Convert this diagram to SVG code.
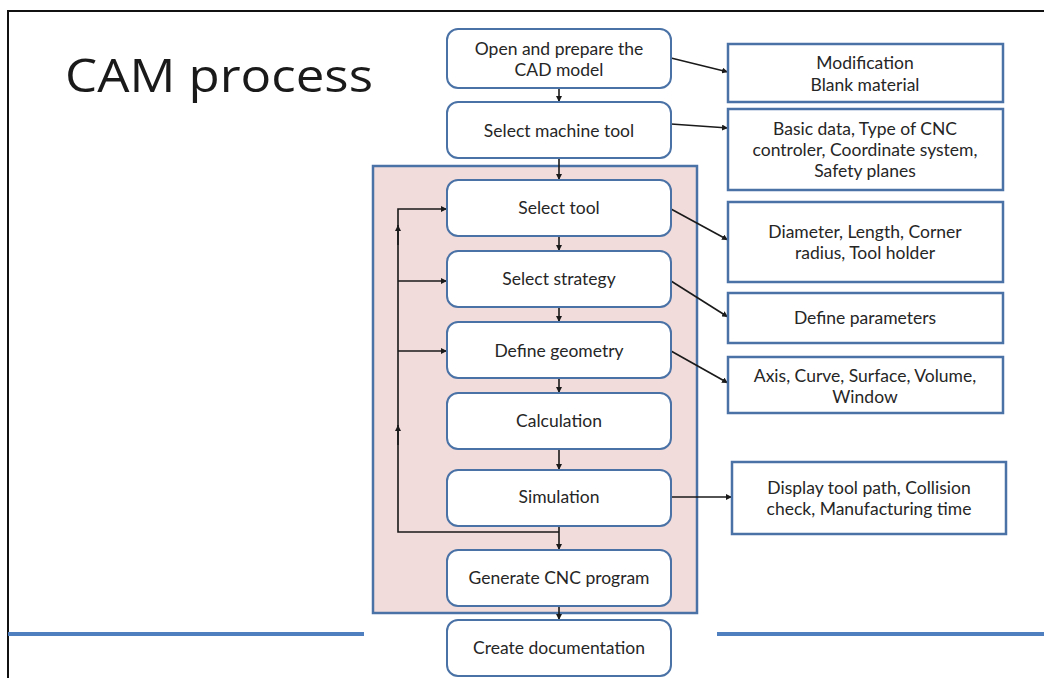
<svg xmlns="http://www.w3.org/2000/svg" width="1044" height="678" viewBox="0 0 1044 678">
<style>
.step{fill:#fff;stroke:#4a72a6;stroke-width:2}
.info{fill:#fff;stroke:#4a72a6;stroke-width:2.5}
.t{font-family:Lato,"Open Sans","Liberation Sans",sans-serif;font-size:17.5px;fill:#262626;text-anchor:middle}
.c{fill:none;stroke:#1a1a1a;stroke-width:1.6}
</style>
<defs>
<marker id="a" viewBox="0 0 10 10" refX="10" refY="5" markerWidth="6" markerHeight="6" orient="auto" markerUnits="userSpaceOnUse"><path d="M0,0 L10,5 L0,10 z" fill="#1a1a1a"/></marker>
</defs>
<rect width="1044" height="678" fill="#fff"/>
<path d="M8,678 V11 H1044" fill="none" stroke="#111" stroke-width="2"/>
<line x1="8" y1="634" x2="364" y2="634" stroke="#4f7fbf" stroke-width="4"/>
<line x1="717" y1="634" x2="1044" y2="634" stroke="#4f7fbf" stroke-width="4"/>
<text x="65" y="92" font-family="Open Sans,Liberation Sans,sans-serif" font-size="46" fill="#1a1a1a" textLength="308" lengthAdjust="spacingAndGlyphs">CAM process</text>
<rect id="container" x="373" y="166" width="324" height="447" fill="#f2dcdb" stroke="#4a72a6" stroke-width="2.5"/>
<g id="connectors">
<line class="c" x1="559" y1="88" x2="559" y2="102" marker-end="url(#a)"/>
<line class="c" x1="559" y1="158" x2="559" y2="180" marker-end="url(#a)"/>
<line class="c" x1="559" y1="236" x2="559" y2="251" marker-end="url(#a)"/>
<line class="c" x1="559" y1="307" x2="559" y2="322" marker-end="url(#a)"/>
<line class="c" x1="559" y1="378" x2="559" y2="393" marker-end="url(#a)"/>
<line class="c" x1="559" y1="449" x2="559" y2="470" marker-end="url(#a)"/>
<line class="c" x1="559" y1="526" x2="559" y2="550" marker-end="url(#a)"/>
<line class="c" x1="559" y1="606" x2="559" y2="620" marker-end="url(#a)"/>
<path class="c" d="M559,532 H398 V209 H447" marker-end="url(#a)"/>
<line class="c" x1="398" y1="281" x2="447" y2="281" marker-end="url(#a)"/>
<line class="c" x1="398" y1="351" x2="447" y2="351" marker-end="url(#a)"/>
<line class="c" x1="398" y1="245" x2="398" y2="225" marker-end="url(#a)"/>
<line class="c" x1="398" y1="445" x2="398" y2="425" marker-end="url(#a)"/>
<line class="c" x1="671" y1="58" x2="728" y2="72" marker-end="url(#a)"/>
<line class="c" x1="671" y1="124" x2="728" y2="128" marker-end="url(#a)"/>
<line class="c" x1="671" y1="209" x2="728" y2="240" marker-end="url(#a)"/>
<line class="c" x1="671" y1="281" x2="728" y2="317" marker-end="url(#a)"/>
<line class="c" x1="671" y1="351" x2="728" y2="383" marker-end="url(#a)"/>
<line class="c" x1="671" y1="497" x2="732" y2="497" marker-end="url(#a)"/>
</g>
<g id="n1"><rect class="step" x="447" y="29" width="224" height="59" rx="11"/><text class="t" x="559" y="55">Open and prepare the</text><text class="t" x="559" y="76">CAD model</text></g>
<g id="n2"><rect class="step" x="447" y="102" width="224" height="56" rx="11"/><text class="t" x="559" y="137">Select machine tool</text></g>
<g id="n3"><rect class="step" x="447" y="180" width="224" height="56" rx="11"/><text class="t" x="559" y="214">Select tool</text></g>
<g id="n4"><rect class="step" x="447" y="251" width="224" height="56" rx="11"/><text class="t" x="559" y="285">Select strategy</text></g>
<g id="n5"><rect class="step" x="447" y="322" width="224" height="56" rx="11"/><text class="t" x="559" y="357">Define geometry</text></g>
<g id="n6"><rect class="step" x="447" y="393" width="224" height="56" rx="11"/><text class="t" x="559" y="427">Calculation</text></g>
<g id="n7"><rect class="step" x="447" y="470" width="224" height="56" rx="11"/><text class="t" x="559" y="503">Simulation</text></g>
<g id="n8"><rect class="step" x="447" y="550" width="224" height="56" rx="11"/><text class="t" x="559" y="584">Generate CNC program</text></g>
<g id="n9"><rect class="step" x="447" y="620" width="224" height="56" rx="11"/><text class="t" x="559" y="654">Create documentation</text></g>
<g id="i1"><rect class="info" x="728" y="44" width="275" height="58"/><text class="t" x="865" y="69">Modification</text><text class="t" x="865" y="91">Blank material</text></g>
<g id="i2"><rect class="info" x="728" y="109" width="275" height="81"/><text class="t" x="865" y="135">Basic data, Type of CNC</text><text class="t" x="865" y="156">controler, Coordinate system,</text><text class="t" x="865" y="177">Safety planes</text></g>
<g id="i3"><rect class="info" x="728" y="202" width="275" height="80"/><text class="t" x="865" y="238">Diameter, Length, Corner</text><text class="t" x="865" y="259">radius, Tool holder</text></g>
<g id="i4"><rect class="info" x="728" y="293" width="275" height="50"/><text class="t" x="865" y="324">Define parameters</text></g>
<g id="i5"><rect class="info" x="728" y="357" width="275" height="56"/><text class="t" x="865" y="382">Axis, Curve, Surface, Volume,</text><text class="t" x="865" y="403">Window</text></g>
<g id="i6"><rect class="info" x="732" y="462" width="274" height="72"/><text class="t" x="869" y="494">Display tool path, Collision</text><text class="t" x="869" y="515">check,  Manufacturing time</text></g>
</svg>
